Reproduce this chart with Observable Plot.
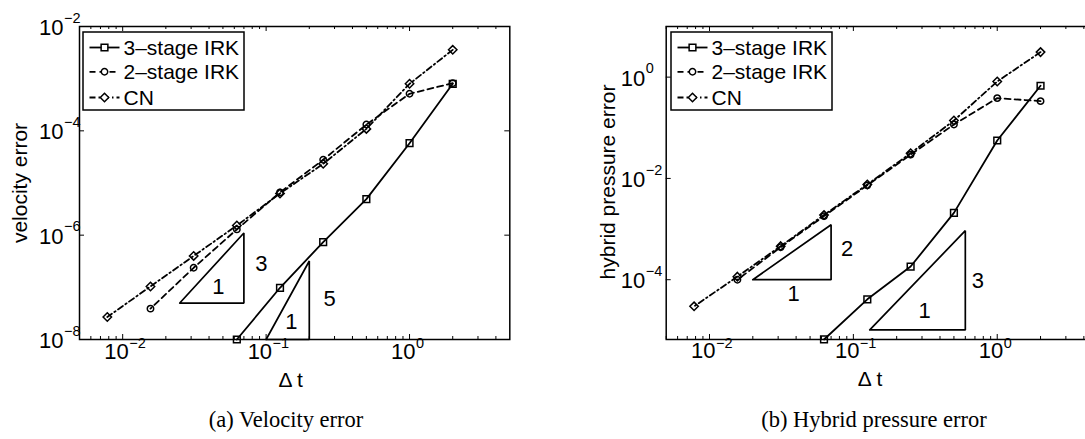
<!DOCTYPE html>
<html><head><meta charset="utf-8">
<script src="https://cdn.jsdelivr.net/npm/d3@7"></script>
<script src="https://cdn.jsdelivr.net/npm/@observablehq/plot@0.6"></script>
<style>
html,body{margin:0;padding:0;background:#fff;}
#fig{position:relative;width:1085px;height:439px;overflow:hidden;background:#fff;}
.panel{position:absolute;top:0;}
.legend,.ylab{position:absolute;}
.cap{position:absolute;top:406px;font-family:"Liberation Serif","DejaVu Serif",serif;font-size:22.5px;line-height:28px;color:#000;transform:translateX(-50%);white-space:nowrap;}
</style></head><body><div id="fig"></div>
<script>
// time steps (largest first)
const dt = [2, 1, 0.5, 0.25, 0.125, 0.0625, 0.03125, 0.015625, 0.0078125];

// (a) velocity error
const velIRK3 = [7.97e-4, 5.8e-5, 4.9e-6, 7.35e-7, 9.8e-8, 1e-8];
const velIRK2 = [8.2e-4, 5.13e-4, 1.32e-4, 2.79e-5, 6.6e-6, 1.29e-6, 2.37e-7, 3.9e-8];
const velCN   = [3.57e-3, 7.97e-4, 1.09e-4, 2.33e-5, 6.3e-6, 1.53e-6, 4.0e-7, 1.04e-7, 2.7e-8];

// (b) hybrid pressure error
const preIRK3 = [0.676, 0.0561, 2.09e-3, 1.82e-4, 4.1e-5, 6.6e-6];
const preIRK2 = [0.336, 0.385, 0.116, 2.95e-2, 7.3e-3, 1.8e-3, 4.4e-4, 1.0e-4];
const preCN   = [3.12, 0.82, 0.139, 3.15e-2, 7.6e-3, 1.9e-3, 4.6e-4, 1.15e-4, 2.98e-5];

// reference slope triangles (x, y)
const velSlope3 = [[0.025, 5e-8], [0.07, 5e-8], [0.07, 1.1e-6], [0.025, 5e-8]];
const velSlope5 = [[0.1, 1e-8], [0.2, 1e-8], [0.2, 3.2e-7], [0.1, 1e-8]];
const preSlope2 = [[0.02, 1e-4], [0.07, 1e-4], [0.07, 1.22e-3], [0.02, 1e-4]];
const preSlope3 = [[0.13, 1.02e-5], [0.6, 1.02e-5], [0.6, 9.3e-4], [0.13, 1.02e-5]];
const velSlopeLabels = [[0.0927, 2.83e-7, "3"], [0.0464, 1.0e-7, "1"], [0.277, 6.0e-8, "5"], [0.15, 2.15e-8, "1"]];
const preSlopeLabels = [[0.0904, 4.06e-4, "2"], [0.0384, 5.24e-5, "1"], [0.733, 9.6e-5, "3"], [0.313, 2.37e-5, "1"]];

// ticks
const xDomain = [0.005, 5];
const xMajor = [0.01, 0.1, 1];
const xMajorExp = ["\u22122", "\u22121", "0"];
const xMinor = [0.005,0.006,0.007,0.008,0.009,0.02,0.03,0.04,0.05,0.06,0.07,0.08,0.09,0.2,0.3,0.4,0.5,0.6,0.7,0.8,0.9,2,3,4];
const velYTicks = [1e-8, 1e-6, 1e-4, 1e-2];
const velYExp = ["\u22128", "\u22126", "\u22124", "\u22122"];
const preYTicks = [1e-4, 1e-2, 1];
const preYExp = ["\u22124", "\u22122", "0"];

const seriesNames = ["3\u2013stage IRK", "2\u2013stage IRK", "CN"];
const seriesSymbols = ["square", "circle", "diamond2"];
const seriesDash = [null, "6,4", "6,3,1.5,3"];
const seriesR = [3.8, 3.2, 3.8];

const FONT = "Liberation Sans, Arial, Helvetica, sans-serif";
const rows = vals => vals.map((v, i) => ({x: dt[i], y: v}));

function panel(o) {
  const frameW = o.width - o.marginLeft - o.marginRight;
  const frameH = o.height - o.marginTop - o.marginBottom;
  const marks = [];
  // ticks (inward, both sides)
  marks.push(Plot.ruleX(xMajor, {x: d => d, insetTop: frameH - 5, stroke: "black", strokeWidth: 1}));
  marks.push(Plot.ruleX(xMajor, {x: d => d, insetBottom: frameH - 5, stroke: "black", strokeWidth: 1}));
  marks.push(Plot.ruleX(xMinor, {x: d => d, insetTop: frameH - 3, stroke: "black", strokeWidth: 1}));
  marks.push(Plot.ruleX(xMinor, {x: d => d, insetBottom: frameH - 3, stroke: "black", strokeWidth: 1}));
  marks.push(Plot.ruleY(o.yTicks, {y: d => d, insetRight: frameW - 5, stroke: "black", strokeWidth: 1}));
  marks.push(Plot.ruleY(o.yTicks, {y: d => d, insetLeft: frameW - 5, stroke: "black", strokeWidth: 1}));
  // tick labels
  marks.push(Plot.text(xMajor, {x: d => d, text: () => "10", frameAnchor: "bottom", textAnchor: "end", dx: 6, dy: 19, fontSize: 22, fontFamily: FONT, fill: "black"}));
  marks.push(Plot.text(xMajor, {x: d => d, text: (d, i) => xMajorExp[i], frameAnchor: "bottom", textAnchor: "start", dx: 6.5, dy: 8.5, fontSize: 14.5, fontFamily: FONT, fill: "black"}));
  marks.push(Plot.text(o.yTicks, {y: d => d, text: () => "10", frameAnchor: "left", textAnchor: "end", dx: o.yLabDx, dy: 1.5, fontSize: 22, fontFamily: FONT, fill: "black"}));
  marks.push(Plot.text(o.yTicks, {y: d => d, text: (d, i) => o.yExp[i], frameAnchor: "left", textAnchor: "start", dx: o.yLabDx + 0.5, dy: -8.5, fontSize: 14.5, fontFamily: FONT, fill: "black"}));
  // x axis label
  marks.push(Plot.text(["\u0394 t"], {text: d => d, frameAnchor: "bottom", dx: o.xLabelDx, dy: 47, fontSize: 21, fontFamily: FONT, fill: "black"}));
  // slope triangles
  for (const t of o.tris) marks.push(Plot.line(t, {x: d => d[0], y: d => d[1], stroke: "black", strokeWidth: 1.7, strokeLinejoin: "miter"}));
  marks.push(Plot.text(o.triLabels, {x: d => d[0], y: d => d[1], text: d => d[2], fontSize: 22, fontFamily: FONT, fill: "black"}));
  // series
  o.series.forEach((vals, k) => {
    marks.push(Plot.line(rows(vals), {x: "x", y: "y", stroke: "black", strokeWidth: 1.8, strokeDasharray: seriesDash[k]}));
  });
  o.series.forEach((vals, k) => {
    marks.push(Plot.dot(rows(vals), {x: "x", y: "y", symbol: () => seriesSymbols[k], r: seriesR[k], stroke: "black", strokeWidth: 1.5, fill: "none"}));
  });
  marks.push(Plot.frame({stroke: "black", strokeWidth: 1.5}));
  return Plot.plot({
    width: o.width, height: o.height,
    marginLeft: o.marginLeft, marginRight: o.marginRight, marginTop: o.marginTop, marginBottom: o.marginBottom,
    style: {background: "transparent", overflow: "visible"},
    x: {type: "log", domain: xDomain, axis: null},
    y: {type: "log", domain: o.yDomain, axis: null},
    marks
  });
}

function legend(left, top) {
  const W = 161, H = 78;
  const svg = d3.create("svg").attr("class", "legend").attr("width", W + 2).attr("height", H + 2)
    .style("left", left - 1 + "px").style("top", top - 1 + "px");
  svg.append("rect").attr("x", 1).attr("y", 1).attr("width", W).attr("height", H)
    .attr("fill", "white").attr("stroke", "black").attr("stroke-width", 1.5);
  const ys = [15.5, 39.8, 65.5];
  seriesNames.forEach((name, k) => {
    const g = svg.append("g").attr("transform", `translate(1,${1 + ys[k]})`);
    g.append("line").attr("x1", 6.5).attr("x2", 36.5).attr("y1", 0).attr("y2", 0)
      .attr("stroke", "black").attr("stroke-width", 1.8).attr("stroke-dasharray", seriesDash[k]);
    const sym = {square: d3.symbolSquare, circle: d3.symbolCircle, diamond2: d3.symbolDiamond2}[seriesSymbols[k]];
    g.append("path").attr("transform", "translate(21.5,0)")
      .attr("d", d3.symbol(sym, Math.PI * seriesR[k] * seriesR[k])())
      .attr("fill", "white").attr("stroke", "black").attr("stroke-width", 1.5);
    g.append("text").attr("x", 40.5).attr("y", 0).attr("dy", "0.35em")
      .attr("font-family", FONT).style("font-size", "21px").attr("fill", "black").text(name);
  });
  return svg.node();
}

function yLabel(text, cx, cy) {
  const svg = d3.create("svg").attr("class", "ylab").attr("width", 40).attr("height", 300)
    .style("left", cx - 20 + "px").style("top", cy - 150 + "px");
  svg.append("text").attr("transform", "translate(20,150) rotate(-90)")
    .attr("text-anchor", "middle").attr("dy", "0.35em")
    .attr("font-family", FONT).style("font-size", "21px").attr("fill", "black").text(text);
  return svg.node();
}

const fig = document.getElementById("fig");

const pa = panel({
  width: 540, height: 370, marginLeft: 79, marginRight: 30.7, marginTop: 26, marginBottom: 31,
  series: [velIRK3, velIRK2, velCN],
  yDomain: [d3.min(velIRK3), 1e-2], yTicks: velYTicks, yExp: velYExp, yLabDx: -16,
  xLabelDx: -4,
  tris: [velSlope3, velSlope5], triLabels: velSlopeLabels
});
pa.classList.add("panel"); pa.style.left = "0px";
fig.appendChild(pa);

const pb = panel({
  width: 588.3, height: 370, marginLeft: 125.7, marginRight: 31, marginTop: 26, marginBottom: 31,
  series: [preIRK3, preIRK2, preCN],
  yDomain: [d3.min(preIRK3), 10], yTicks: preYTicks, yExp: preYExp, yLabDx: -21,
  xLabelDx: -12,
  tris: [preSlope2, preSlope3], triLabels: preSlopeLabels
});
pb.classList.add("panel"); pb.style.left = "540px";
fig.appendChild(pb);

fig.appendChild(yLabel("velocity error", 20, 182.5));
fig.appendChild(yLabel("hybrid pressure error", 608, 182));
fig.appendChild(legend(83.3, 31.7));
fig.appendChild(legend(670.7, 31.7));

const capA = document.createElement("div"); capA.className = "cap"; capA.style.left = "286px"; capA.textContent = "(a) Velocity error";
const capB = document.createElement("div"); capB.className = "cap"; capB.style.left = "874px"; capB.textContent = "(b) Hybrid pressure error";
fig.appendChild(capA); fig.appendChild(capB);
</script>
</body></html>
